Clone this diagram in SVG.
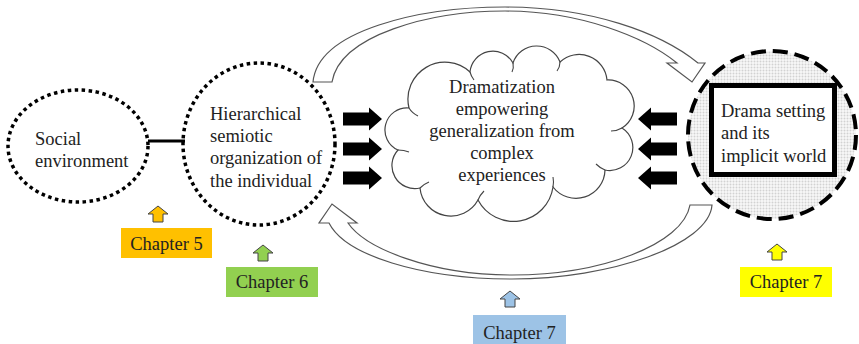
<svg xmlns="http://www.w3.org/2000/svg" xmlns:xlink="http://www.w3.org/1999/xlink" width="859" height="344" viewBox="0 0 859 344" font-family="'Liberation Serif', 'Times New Roman', 'DejaVu Serif', serif">
<style>
text{font-family:'Liberation Serif','Times New Roman','DejaVu Serif',serif;font-size:18.5px;fill:#222}
.dot{fill:none;stroke:#000;stroke-width:3.5;stroke-dasharray:3.5 3.5}
.hollow{fill:#fff;stroke:#555;stroke-width:1.2;stroke-linejoin:miter}
.blk{fill:#000}
.cloud{fill:#fff;stroke:#444;stroke-width:1.2}
.crease{fill:none;stroke:#444;stroke-width:1.1}
.up{stroke:#444;stroke-width:1}
.mid{text-anchor:middle}
</style>
<defs>
<pattern id="dots" width="3" height="3" patternUnits="userSpaceOnUse">
<rect width="3" height="3" fill="#f8f8f8"/>
<circle cx="1.5" cy="1.5" r="0.95" fill="#d2d2d2"/>
</pattern>
<path id="upArrow" d="M0,0 L10,8 L5,8 L5,16 L-5,16 L-5,8 L-10,8 Z"/>
<path id="blkArrow" d="M0,-6.5 H26 V-11.5 L39,0 L26,11.5 V6.5 H0 Z"/>
</defs>

<g id="social">
<ellipse class="dot" cx="78" cy="146" rx="70" ry="56"/>
<text x="35" y="145">Social</text>
<text x="35" y="167">environment</text>
</g>

<g id="hierarchical">
<ellipse class="dot" cx="259" cy="144" rx="76" ry="81"/>
<text x="210" y="120">Hierarchical</text>
<text x="210" y="142">semiotic</text>
<text x="210" y="164">organization of</text>
<text x="210" y="187">the individual</text>
</g>

<g id="dramatization">
<path class="cloud" d="M409,108 A37,37 0 0 1 470,72 A23,23 0 0 1 513,63 A25,25 0 0 1 560,62 A28,28 0 0 1 607,80 A26,26 0 0 1 622,128 A23,23 0 0 1 605,170 A29,29 0 0 1 553,187 A40,40 0 0 1 478,200 A31,31 0 0 1 420,188 A23,23 0 0 1 398,150 A22,22 0 0 1 409,108 Z"/>
<path class="crease" d="M409,108 Q412,113 418,116"/>
<path class="crease" d="M470,72 Q471,76 474,80"/>
<path class="crease" d="M513,63 Q514,68 512,72"/>
<path class="crease" d="M560,62 Q560,67 557,71"/>
<path class="crease" d="M622,128 Q617,131 611,131"/>
<path class="crease" d="M605,170 Q600,168 596,164"/>
<path class="crease" d="M553,187 Q554,182 553,177"/>
<path class="crease" d="M478,200 Q480,195 484,191"/>
<path class="crease" d="M420,188 Q424,184 429,182"/>
<path class="crease" d="M398,150 Q404,150 409,152"/>
<text class="mid" x="502" y="93">Dramatization</text>
<text class="mid" x="502" y="115">empowering</text>
<text class="mid" x="502" y="137">generalization from</text>
<text class="mid" x="502" y="159">complex</text>
<text class="mid" x="502" y="181">experiences</text>
</g>

<g id="drama-setting">
<circle cx="772" cy="135" r="84" fill="url(#dots)" stroke="#000" stroke-width="4" stroke-dasharray="15 7"/>
<rect x="711.5" y="85.5" width="123" height="89" fill="#fff" stroke="#000" stroke-width="5"/>
<text x="721" y="117">Drama setting</text>
<text x="721" y="139">and its</text>
<text x="721" y="162">implicit world</text>
</g>

<g id="connectors">
<line x1="148" y1="141" x2="185" y2="141" stroke="#000" stroke-width="3"/>
<path class="hollow" d="M313,82 C318,30 420,7 505,7 C590,7 660,32 698,63 L705,63 L692,82 L667,63 L677,63 C645,37 580,11 505,11 C430,11 340,35 332,82 Z"/>
<path class="hollow" d="M690,205 L712,205 C709,245 610,279 512,279 C420,279 345,255 329,223 L319,223 L332,204 L357,223 L348,223 C365,248 430,275 512,275 C600,275 683,245 690,205 Z"/>
<use href="#blkArrow" class="blk" transform="translate(343,119)"/>
<use href="#blkArrow" class="blk" transform="translate(343,149)"/>
<use href="#blkArrow" class="blk" transform="translate(343,178)"/>
<use href="#blkArrow" class="blk" transform="translate(677,119) scale(-1,1)"/>
<use href="#blkArrow" class="blk" transform="translate(677,149) scale(-1,1)"/>
<use href="#blkArrow" class="blk" transform="translate(677,178) scale(-1,1)"/>
</g>

<g id="chapter5">
<use href="#upArrow" class="up" fill="#FFC000" transform="translate(158,206)"/>
<rect x="121" y="228" width="91" height="30" fill="#FFC000"/>
<text class="mid" x="166.5" y="250">Chapter 5</text>
</g>

<g id="chapter6">
<use href="#upArrow" class="up" fill="#92D050" transform="translate(263,245)"/>
<rect x="226" y="267" width="92" height="30" fill="#92D050"/>
<text class="mid" x="272" y="288">Chapter 6</text>
</g>

<g id="chapter7-bottom">
<use href="#upArrow" class="up" fill="#9DC3E6" transform="translate(510,291)"/>
<rect x="473" y="315" width="93" height="29" fill="#9DC3E6"/>
<text class="mid" x="519.5" y="339">Chapter 7</text>
</g>

<g id="chapter7-right">
<use href="#upArrow" class="up" fill="#FFFF00" transform="translate(777,244)"/>
<rect x="740" y="267" width="92" height="30" fill="#FFFF00"/>
<text class="mid" x="786" y="288">Chapter 7</text>
</g>
</svg>
